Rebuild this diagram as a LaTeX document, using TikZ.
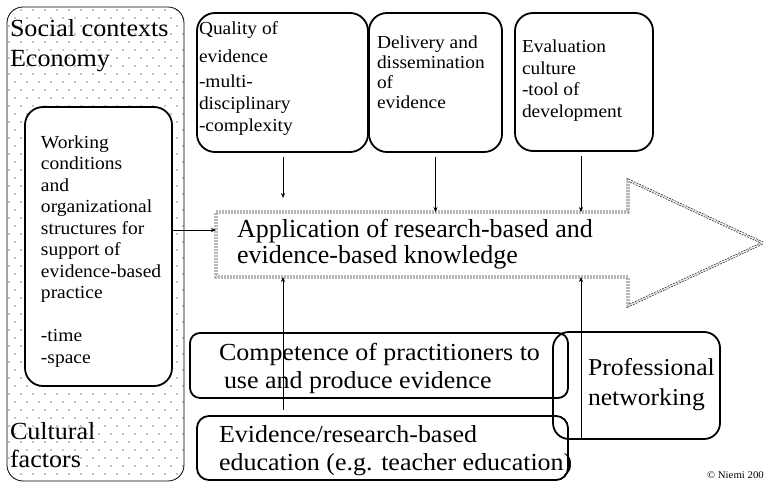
\documentclass[tikz,border=0pt]{standalone}
\usepackage{fontspec}
\setmainfont[FakeStretch=1.06]{Liberation Serif}
\newfontfamily\appfont{Liberation Serif}
\usetikzlibrary{arrows.meta}
\tikzset{
  box/.style={draw, rounded corners=#1, line width=1.8pt, outer sep=0pt, inner sep=0pt},
  thinbox/.style={draw, rounded corners=16pt, line width=0.8pt, outer sep=0pt, inner sep=0pt},
  txt/.style={inner sep=0pt, outer sep=0pt, align=left, anchor=base west},
  arr/.style={-{Stealth[length=5pt,width=4pt]}, line width=0.6pt},
  appline/.style={draw=gray!45!black, line width=0.8pt, double=white, double distance=1.1pt, dash pattern=on 1.8pt off 1.2pt}
}
\begin{document}
\begin{tikzpicture}[x=1pt,y=-1pt]
\useasboundingbox (0,0) rectangle (764,484);
% dotted background of the outer box
\begin{scope}
  \clip[rounded corners=16pt] (7,7) rectangle (184,481);
  \foreach \j in {0,...,60} {
    \foreach \i in {0,...,15} {
      \fill ({9+12*\i+6*mod(\j,2)},{10+8*\j}) circle[radius=0.6pt];
    }
  }
\end{scope}
\node[thinbox, minimum width=177pt, minimum height=474pt] (outer) at (95.5,244) {};
\node[box=18pt, fill=white, minimum width=147pt, minimum height=279pt] (work) at (98.5,246.5) {};
% top boxes
\node[box=18pt, minimum width=171pt, minimum height=139pt] (qual) at (282.5,82.5) {};
\node[box=18pt, minimum width=133pt, minimum height=139pt] (deliv) at (435.5,82.5) {};
\node[box=18pt, minimum width=138pt, minimum height=138pt] (eval) at (584,82) {};
% bottom boxes
\node[box=10pt, minimum width=378pt, minimum height=65pt] (comp) at (379,365.5) {};
\node[box=12pt, minimum width=371pt, minimum height=64pt] (edu) at (382.5,448) {};
\node[box=16pt, minimum width=167pt, minimum height=107pt] (prof) at (636.5,385.5) {};
% big dotted arrow
\node[minimum width=412pt, minimum height=65pt, inner sep=0pt, outer sep=0pt] (app) at (422,244.5) {};
\draw[appline] (app.north west) -- (app.north east) -- (628,180) -- (763,243) -- (628,306) -- (app.south east) -- (app.south west) -- cycle;
% texts (anchor = baseline of the last line)
\node[txt, font=\fontsize{24.6}{30}\selectfont] (soc) at (10,67) {Social contexts\\Economy};
\node[txt, font=\fontsize{24.6}{28}\selectfont] (cult) at (10,467) {Cultural\\factors};
\node[txt, font=\fontsize{18.4}{21.5}\selectfont] (worktxt) at (41,363) {Working\\conditions\\and\\organizational\\structures for\\support of\\evidence-based\\practice\\[21.5pt]-time\\-space};
\node[txt, font=\fontsize{18.3}{22}\selectfont] (qualtxt) at (199,132) {Quality of\\[6pt]evidence\\[3pt]-multi-\\disciplinary\\-complexity};
\node[txt, font=\fontsize{18.3}{20}\selectfont] (delivtxt) at (377,109) {Delivery and\\dissemination\\of\\evidence};
\node[txt, font=\fontsize{18.3}{21.5}\selectfont] (evaltxt) at (522,117.5) {Evaluation\\culture\\-tool of\\development};
\node[txt, font=\appfont\fontsize{26}{25}\selectfont] (apptxt) at (237,263) {Application of research-based and\\evidence-based knowledge};
\node[txt, font=\fontsize{24.5}{28}\selectfont] (comptxt) at (219,388) {Competence of practitioners to\\\hspace{5pt}use and produce evidence};
\node[txt, font=\fontsize{24.5}{28}\selectfont] (edutxt) at (219,470) {Evidence/research-based\\education (e.g. teacher education)};
\node[txt, font=\fontsize{24.2}{30}\selectfont] (proftxt) at (588,405) {Professional\\networking};
\node[txt, font=\fontsize{10.2}{11}\selectfont] (copy) at (707,478) {© Niemi 200};
% connectors
\coordinate (x1) at (283,0);
\coordinate (x3) at (581,0);
\coordinate (qtip) at (283,198);
\coordinate (u1) at (283,410);
\coordinate (ly) at (0,230);
\draw[arr] ([yshift=-5pt]qual.south -| x1) -- (qtip);
\draw[arr] ([yshift=-5pt]deliv.south) -- (app.north -| deliv.south);
\draw[arr] ([yshift=-5pt]eval.south -| x3) -- (app.north -| x3);
\draw[arr] (u1) -- (app.south -| u1);
\draw[arr] (prof.south -| x3) -- (app.south -| x3);
\draw[arr] (work.east |- ly) -- (app.west |- ly);
\end{tikzpicture}
\end{document}
